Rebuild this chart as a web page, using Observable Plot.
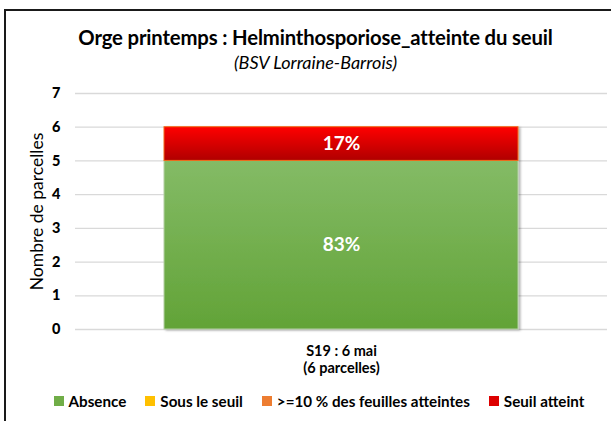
<!DOCTYPE html>
<html>
<head>
<meta charset="utf-8">
<script src="https://cdn.jsdelivr.net/npm/d3@7"></script>
<script src="https://cdn.jsdelivr.net/npm/@observablehq/plot@0.6"></script>
<style>
  html, body { margin: 0; padding: 0; background: #fff; }
  #chart { position: relative; width: 611px; height: 421px; overflow: hidden; font-family: Lato, "Open Sans", sans-serif; color: #000; }
  #frame { position: absolute; left: 4px; top: 9px; width: 700px; height: 500px; border-left: 2px solid #1a1a1a; border-top: 2px solid #1a1a1a; }
  #title { position: absolute; left: 0; width: 631px; top: 25px; text-align: center; font-weight: bold; font-size: 20.3px; letter-spacing: -0.15px; }
  #subtitle { position: absolute; left: 0; width: 631px; top: 51px; text-align: center; font-style: italic; font-size: 18px; }
  #plot { position: absolute; left: 0; top: 80px; }
  #plot g[aria-label="y-axis tick label"], #plot g[aria-label="y-axis tick label"] text { font-weight: 900; }
  #plot g[aria-label="x-axis tick label"] text { font-weight: bold; }
  #legend { position: absolute; left: 0; width: 638px; top: 392px; display: flex; justify-content: center; gap: 19px; font-weight: bold; font-size: 15.2px; }
  #legend .item { display: flex; align-items: center; gap: 5px; }
  #legend .sw { width: 10px; height: 10px; display: inline-block; }
</style>
</head>
<body>
<div id="chart">
  <div id="frame"></div>
  <div id="title"></div>
  <div id="subtitle"></div>
  <div id="plot"></div>
  <div id="legend"></div>
</div>
<script>
// ---- data ----
const titleText = "Orge printemps : Helminthosporiose_atteinte du seuil";
const subtitleText = "(BSV Lorraine-Barrois)";
const yLabel = "Nombre de parcelles";
const categories = ["S19 : 6 mai\n(6 parcelles)"];
const series = ["Absence", "Sous le seuil", ">=10 % des feuilles atteintes", "Seuil atteint"];
const values = [5, 0, 0, 1];
const yTicks = [0, 1, 2, 3, 4, 5, 6, 7];
const legendColors = ["#70ad47", "#ffc000", "#ed7d31", "#dd0000"];
const barFills = ["url(#gGreen)", "url(#gYellow)", "url(#gOrange)", "url(#gRed)"];
const barStrokes = ["#b5cfa6", "#ffc000", "#ed7d31", "#f26a1b"];

document.getElementById("title").textContent = titleText;
document.getElementById("subtitle").textContent = subtitleText;

const total = d3.sum(values);
const data = series.map((s, i) => ({
  cat: categories[0],
  series: s,
  value: values[i],
  fill: barFills[i],
  stroke: barStrokes[i],
  pct: Math.round(values[i] / total * 100) + "%"
}));

const plot = Plot.plot({
  width: 611,
  height: 300,
  marginLeft: 75,
  marginRight: 4,
  marginTop: 13,
  marginBottom: 51,
  style: { background: "transparent", overflow: "visible", fontFamily: "Lato, 'Open Sans', sans-serif", color: "#000" },
  x: { domain: categories, padding: 0.2, label: null },
  y: { domain: [0, 7], label: null },
  color: { type: "identity" },
  marks: [
    Plot.gridY(yTicks, { stroke: "#d9d9d9", strokeOpacity: 1, strokeWidth: 1.3 }),
    Plot.axisY(yTicks, { tickSize: 0, tickPadding: 15, fontSize: 14.5, fontWeight: "bold", label: null }),
    Plot.text([yLabel], { frameAnchor: "left", textAnchor: "middle", rotate: -90, dx: -38, fontSize: 17.5, text: d => d }),
    Plot.axisX({ tickSize: 0, tickPadding: 14, fontSize: 14.5, fontWeight: "bold", lineHeight: 1.2, label: null }),
    Plot.barY(data, Plot.stackY({ x: "cat", y: "value", z: "series", fill: "fill", stroke: "stroke", strokeWidth: 1, filter: d => d.value > 0 })),
    Plot.text(data, Plot.stackY({ x: "cat", y: "value", z: "series", text: "pct", fill: "white", fontSize: 19, fontWeight: "bold", filter: d => d.value > 0 }))
  ]
});

// gradient + shadow definitions
const ns = "http://www.w3.org/2000/svg";
const defs = document.createElementNS(ns, "defs");
defs.innerHTML = `
  <linearGradient id="gGreen" x1="0" y1="0" x2="0" y2="1">
    <stop offset="0" stop-color="#84bb66"/><stop offset="1" stop-color="#62a337"/>
  </linearGradient>
  <linearGradient id="gYellow" x1="0" y1="0" x2="0" y2="1">
    <stop offset="0" stop-color="#ffd24d"/><stop offset="1" stop-color="#e6ad00"/>
  </linearGradient>
  <linearGradient id="gOrange" x1="0" y1="0" x2="0" y2="1">
    <stop offset="0" stop-color="#f4a06e"/><stop offset="1" stop-color="#d5691f"/>
  </linearGradient>
  <linearGradient id="gRed" x1="0" y1="0" x2="0" y2="1">
    <stop offset="0" stop-color="#ff0000"/><stop offset="1" stop-color="#b00000"/>
  </linearGradient>
  <filter id="shadow" x="-5%" y="-5%" width="115%" height="115%">
    <feDropShadow dx="2" dy="1" stdDeviation="1.2" flood-color="#000" flood-opacity="0.3"/>
  </filter>`;
plot.insertBefore(defs, plot.firstChild);
plot.querySelectorAll("g[aria-label='bar']").forEach(g => g.setAttribute("filter", "url(#shadow)"));
document.getElementById("plot").appendChild(plot);

// legend
const legend = document.getElementById("legend");
series.forEach((s, i) => {
  const item = document.createElement("div");
  item.className = "item";
  const sw = document.createElement("span");
  sw.className = "sw";
  sw.style.background = legendColors[i];
  const lab = document.createElement("span");
  lab.textContent = s;
  item.appendChild(sw);
  item.appendChild(lab);
  legend.appendChild(item);
});
</script>
</body>
</html>
